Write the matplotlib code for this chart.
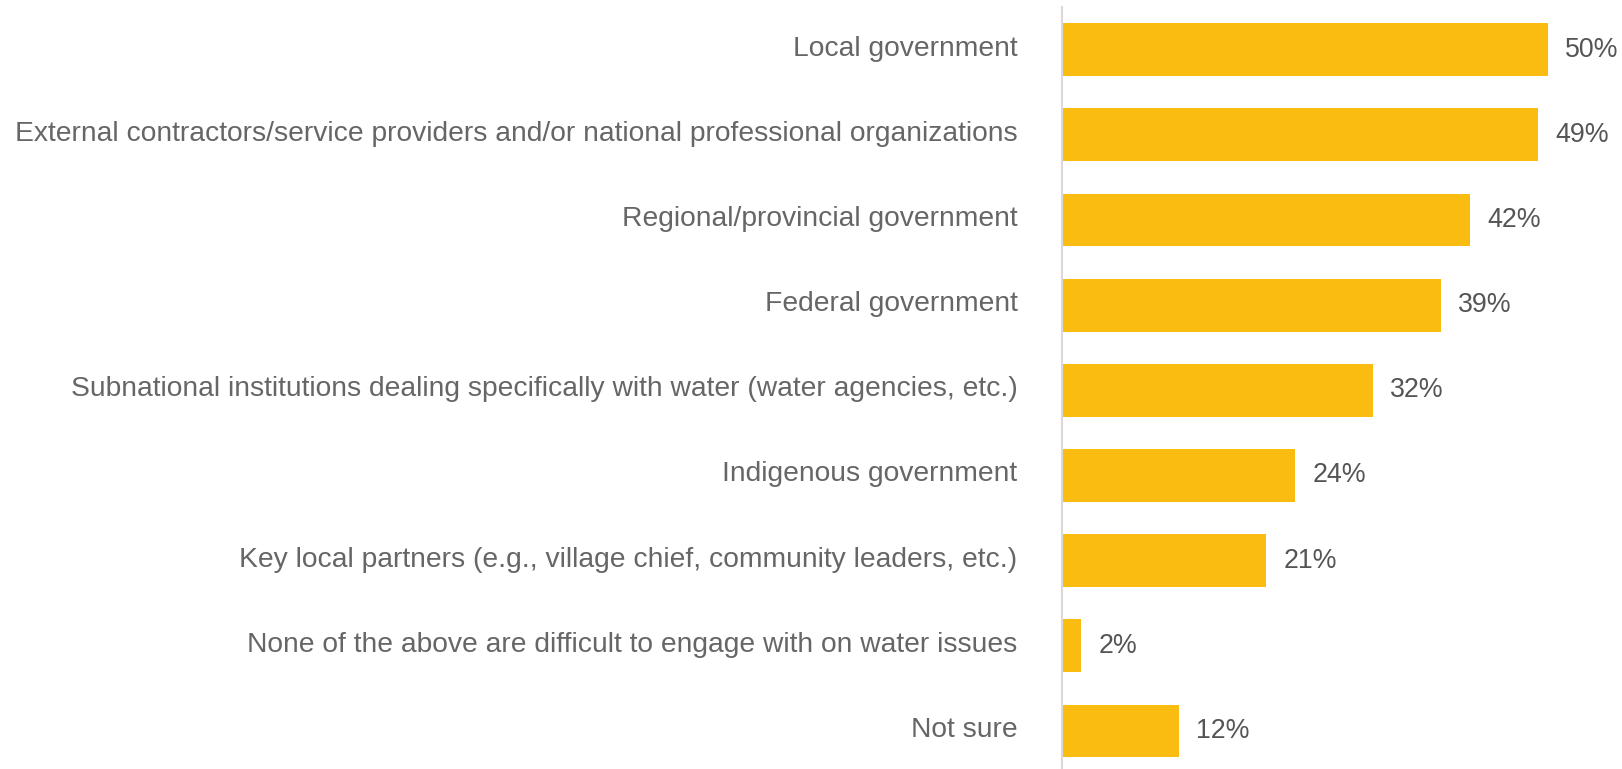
import matplotlib.pyplot as plt
import matplotlib.transforms as mtransforms

categories = [
    'Local government',
    'External contractors/service providers and/or national professional organizations',
    'Regional/provincial government',
    'Federal government',
    'Subnational institutions dealing specifically with water (water agencies, etc.)',
    'Indigenous government',
    'Key local partners (e.g., village chief, community leaders, etc.)',
    'None of the above are difficult to engage with on water issues',
    'Not sure',
]
values = [50, 49, 42, 39, 32, 24, 21, 2, 12]

plt.rcParams['font.family'] = ['Liberation Sans', 'DejaVu Sans']

fig = plt.figure(figsize=(16.22, 7.69), dpi=100)
ax = fig.add_axes([1062 / 1622, 0, 560 / 1622, 762 / 769])

pos = list(range(len(categories)))
ax.barh(pos, values, height=0.62, color='#fbbc12')
for y, v in zip(pos, values):
    ax.text(v + 1.75, y, f'{v}%', va='center', ha='left', fontsize=19.3, color='#555555')

ax.set_xlim(0, 57.6)
ax.set_ylim(8.446, -0.5)
ax.set_yticks(pos)
ax.set_yticklabels(categories, fontsize=20.3, color='#666666')
ax.tick_params(axis='y', length=0, pad=32)
# nudge the category labels up a little
shift = mtransforms.ScaledTranslation(0, 4 / 100, fig.dpi_scale_trans)
for lab in ax.get_yticklabels():
    lab.set_transform(lab.get_transform() + shift)
ax.set_xticks([])
for s in ['top', 'right', 'bottom']:
    ax.spines[s].set_visible(False)
ax.spines['left'].set_color('#d9d9d9')
ax.spines['left'].set_linewidth(1.5)

fig.savefig('out.png')
